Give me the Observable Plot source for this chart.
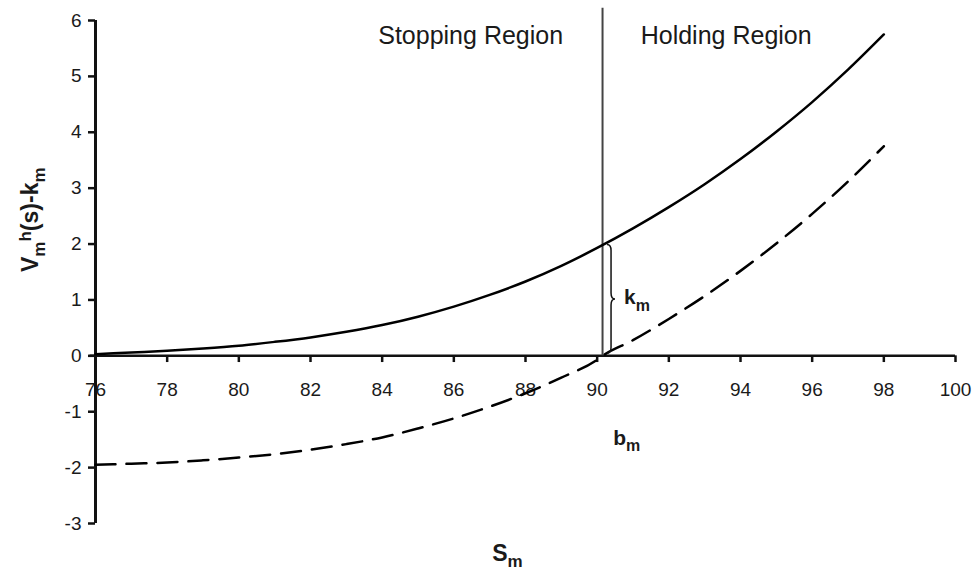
<!DOCTYPE html>
<html><head><meta charset="utf-8">
<script src="https://cdn.jsdelivr.net/npm/d3@7"></script>
<script src="https://cdn.jsdelivr.net/npm/@observablehq/plot@0.6"></script>
<style>
body{margin:0;background:#fff}
svg{font-family:"Liberation Sans",Arial,Helvetica,sans-serif}
</style>
</head><body><div id="chart"></div>
<script>
// ---- data ----
const sHolding = [76,77,78,79,80,81,82,83,84,85,86,87,88,89,90,91,92,93,94,95,96,97,98];
const holdingValue = [0.03,0.06,0.09,0.13,0.18,0.25,0.33,0.43,0.55,0.70,0.88,1.09,1.33,1.61,1.93,2.28,2.66,3.07,3.52,4.01,4.54,5.12,5.75];
const sStopping = [76,77,78,79,80,81,82,83,84,85,86,87,88,89,90,90.15,91,92,93,94,95,96,97,98];
const stoppingValue = [-1.95,-1.93,-1.91,-1.87,-1.82,-1.76,-1.68,-1.58,-1.46,-1.30,-1.12,-0.91,-0.67,-0.39,-0.07,0.0,0.28,0.66,1.07,1.52,2.01,2.54,3.12,3.75];
const xTicks = [76,78,80,82,84,86,88,90,92,94,96,98,100];
const yTicks = [-3,-2,-1,0,1,2,3,4,5,6];
const boundaryS = [90.15];          // b_m
const boundaryTop = 6.22;
const kGapLow = 0, kGapHigh = 2.0;  // k_m bracket
const regionLabels = ["Stopping Region", "Holding Region"];
const regionX = [86.47, 93.6];
const regionY = [5.72, 5.72];
const yLabel = "V_m^h(s)-k_m";
const xLabel = "S_m";
const kLabel = "k_m";
const bLabel = "b_m";

const holding = sHolding.map((s, i) => ({s, v: holdingValue[i]}));
const stopping = sStopping.map((s, i) => ({s, v: stoppingValue[i]}));

function braceMark(index, scales) {
  const x = scales.x(boundaryS[0]) + 5;
  const y1 = scales.y(kGapHigh) + 1, y2 = scales.y(kGapLow) - 2;
  const ym = (y1 + y2) / 2, h = 4, r = 6;
  const d = `M${x},${y1} Q${x+h},${y1} ${x+h},${y1+r} L${x+h},${ym-r} Q${x+h},${ym} ${x+2*h},${ym} ` +
            `Q${x+h},${ym} ${x+h},${ym+r} L${x+h},${y2-r} Q${x+h},${y2} ${x},${y2}`;
  return d3.create("svg:path").attr("d", d).attr("fill", "none")
    .attr("stroke", "#111").attr("stroke-width", 1.5).node();
}

const plot = Plot.plot({
  width: 976, height: 586,
  marginLeft: 95, marginRight: 21, marginTop: 20, marginBottom: 63,
  style: {fontFamily: "Liberation Sans, Arial, sans-serif", fontSize: "19px", color: "#1a1a1a", background: "#fff"},
  x: {domain: [76, 100], axis: null},
  y: {domain: [-3, 6], label: null},
  marks: [
    Plot.axisY({ticks: yTicks, tickFormat: d => String(d), tickSize: 7, tickPadding: 7, fontSize: 19, strokeWidth: 2.5, stroke: "#111", label: null}),
    Plot.ruleX([76], {y1: -3, y2: 6, strokeWidth: 3, stroke: "#111"}),
    Plot.ruleY([0], {x1: 75.85, x2: 100, strokeWidth: 2.5, stroke: "#111"}),
    Plot.ruleX(xTicks, {x: d => d, y1: 0, y2: -0.12, strokeWidth: 2.5, stroke: "#111"}),
    Plot.text(xTicks, {x: d => d, y: 0, dy: 34, text: d => String(d), fontSize: 19, fill: "#1a1a1a"}),
    Plot.ruleX(boundaryS, {x: d => d, y1: 0, y2: boundaryTop, stroke: "#444", strokeWidth: 2}),
    Plot.line(holding, {x: "s", y: "v", stroke: "#000", strokeWidth: 2.5, curve: "monotone-x"}),
    Plot.line(stopping, {x: "s", y: "v", stroke: "#000", strokeWidth: 2.5, strokeDasharray: "20,11", curve: "monotone-x"}),
    braceMark,
    Plot.text(regionLabels, {x: (d, i) => regionX[i], y: (d, i) => regionY[i], text: d => d, fontSize: 25, fill: "#1a1a1a"}),
    Plot.text([kLabel], {x: [90.75], y: [1.04], text: d => d, textAnchor: "start", fontSize: 21, fontWeight: "bold", fill: "#1a1a1a"}),
    Plot.text([bLabel], {x: [90.45], y: [-1.47], text: d => d, textAnchor: "start", fontSize: 21, fontWeight: "bold", fill: "#1a1a1a"}),
    Plot.text([yLabel], {frameAnchor: "left", dx: -65, rotate: -90, text: d => d, fontSize: 23, fontWeight: "bold", fill: "#1a1a1a"}),
    Plot.text([xLabel], {frameAnchor: "bottom", dx: -18, dy: 37, text: d => d, fontSize: 23, fontWeight: "bold", fill: "#1a1a1a"})
  ]
});

function parseRich(str) {
  const parts = [];
  let buf = "";
  for (let i = 0; i < str.length; i++) {
    const c = str[i];
    if ((c === "_" || c === "^") && i + 1 < str.length) {
      if (buf) { parts.push({t: buf}); buf = ""; }
      parts.push({t: str[i + 1], sub: c === "_", sup: c === "^"});
      i++;
    } else buf += c;
  }
  if (buf) parts.push({t: buf});
  return parts;
}
function setRich(el, str, base) {
  const parts = parseRich(str);
  el.textContent = "";
  let shift = 0;
  for (const p of parts) {
    const ts = document.createElementNS("http://www.w3.org/2000/svg", "tspan");
    const target = p.sub ? base * 0.3 : p.sup ? -base * 0.3 : 0;
    ts.setAttribute("dy", target - shift);
    shift = target;
    if (p.sub || p.sup) ts.setAttribute("font-size", Math.round(base * 0.75));
    ts.textContent = p.t;
    el.appendChild(ts);
  }
}
const richSizes = {[yLabel]: 23, [xLabel]: 23, [kLabel]: 21, [bLabel]: 21};
plot.querySelectorAll("text").forEach(el => {
  const t = el.textContent;
  if (t in richSizes) setRich(el, t, richSizes[t]);
});
document.getElementById("chart").appendChild(plot);
</script>
</body></html>
